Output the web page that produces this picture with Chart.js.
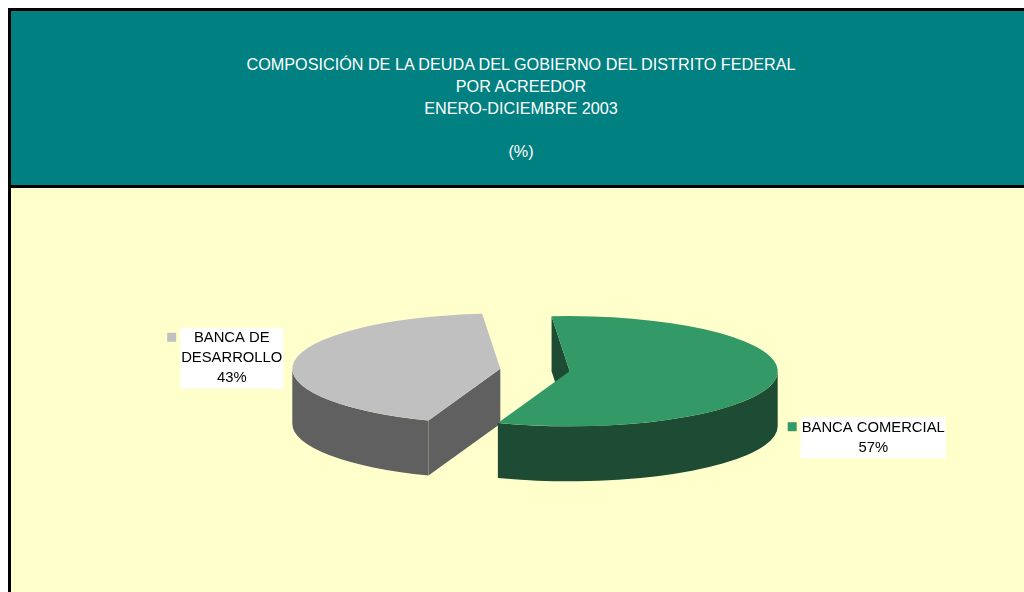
<!DOCTYPE html>
<html>
<head>
<meta charset="utf-8">
<script src="https://cdn.jsdelivr.net/npm/chart.js@4.4.1/dist/chart.umd.min.js"></script>
<style>
  html, body { margin: 0; padding: 0; width: 1024px; height: 592px; overflow: hidden; background: #fff; }
  body { font-family: "Liberation Sans", Arial, sans-serif; position: relative; }
  #frame { position: absolute; left: 8px; top: 8px; width: 1040px; height: 600px;
           border-left: 3px solid #000; border-top: 3px solid #000; background: #FFFFCC; }
  #head { position: absolute; left: 11px; top: 11px; width: 1020px; height: 177px;
          background: #008080; border-bottom: 3px solid #000; color: #fff; text-align: center;
          font-size: 16.2px; line-height: 21.75px; padding-top: 43px; box-sizing: border-box; }
  #chart { position: absolute; left: 0; top: 0; }
</style>
</head>
<body>
<div id="frame"></div>
<div id="head"></div>
<canvas id="chart" width="1024" height="592"></canvas>
<script>
const titleLines = ['COMPOSICIÓN DE LA DEUDA DEL GOBIERNO DEL DISTRITO FEDERAL', 'POR ACREEDOR', 'ENERO-DICIEMBRE 2003', '', '(%)'];
const categories = ['BANCA COMERCIAL', 'BANCA DE DESARROLLO'];
const labelLines = [['BANCA COMERCIAL'], ['BANCA DE', 'DESARROLLO']];
const values = [57, 43];
const topColors = ['#339966', '#C0C0C0'];
const sideColors = ['#1D4B33', '#606060'];

const squash = 0.265;   // vertical flattening of the pie
const depth = 55;       // thickness of the 3d pie
const explode = 35;

document.getElementById('head').innerHTML = titleLines.map(t => '<div>' + (t || '&nbsp;') + '</div>').join('');

function centerY(chart) {
  return (chart.chartArea.top + chart.chartArea.bottom) / 2;
}

const pie3d = {
  id: 'pie3d',
  afterDatasetsUpdate(chart) {
    chart.getDatasetMeta(0).data.forEach(function (arc) {
      const mid = (arc.startAngle + arc.endAngle) / 2;
      arc.x += Math.cos(mid) * explode;
      arc.y += Math.sin(mid) * explode;
    });
  },
  beforeDatasetsDraw(chart) {
    const ctx = chart.ctx;
    const cy = centerY(chart);
    const arcs = chart.getDatasetMeta(0).data;

    // cut faces first
    arcs.forEach(function (arc, i) {
      const x = arc.x, y = cy + (arc.y - cy) * squash, r = arc.outerRadius;
      ctx.fillStyle = sideColors[i];
      [[arc.startAngle, Math.cos(arc.startAngle) < 0], [arc.endAngle, Math.cos(arc.endAngle) > 0]].forEach(function (f) {
        if (!f[1]) return;
        const ex = x + Math.cos(f[0]) * r, ey = y + Math.sin(f[0]) * r * squash;
        ctx.beginPath();
        ctx.moveTo(x, y);
        ctx.lineTo(ex, ey);
        ctx.lineTo(ex, ey + depth);
        ctx.lineTo(x, y + depth);
        ctx.closePath();
        ctx.fill();
      });
    });

    // outer walls, only the front half (sin > 0)
    arcs.forEach(function (arc, i) {
      const x = arc.x, y = cy + (arc.y - cy) * squash, r = arc.outerRadius;
      ctx.fillStyle = sideColors[i];
      for (let k = -1; k <= 2; k++) {
        const a0 = Math.max(arc.startAngle, 2 * Math.PI * k);
        const a1 = Math.min(arc.endAngle, 2 * Math.PI * k + Math.PI);
        if (a1 <= a0) continue;
        ctx.beginPath();
        ctx.ellipse(x, y, r, r * squash, 0, a0, a1);
        ctx.ellipse(x, y + depth, r, r * squash, 0, a1, a0, true);
        ctx.closePath();
        ctx.fill();
      }
    });

    ctx.save();
    ctx.translate(0, cy);
    ctx.scale(1, squash);
    ctx.translate(0, -cy);
  },
  afterDatasetsDraw(chart) {
    chart.ctx.restore();
  },
  afterDraw(chart) {
    const ctx = chart.ctx;
    const cy = centerY(chart);
    const total = values.reduce((a, b) => a + b, 0);
    ctx.save();
    ctx.font = '14.8px "Liberation Sans", Arial, sans-serif';
    ctx.textAlign = 'center';
    ctx.textBaseline = 'middle';
    chart.getDatasetMeta(0).data.forEach(function (arc, i) {
      const lines = labelLines[i].concat([Math.round(values[i] / total * 100) + '%']);
      const w = Math.max.apply(null, lines.map(l => ctx.measureText(l).width)) + 2;
      const h = lines.length * 20 + 1;
      const mid = (arc.startAngle + arc.endAngle) / 2;
      const y = cy + (arc.y - cy) * squash;
      let bx, by;
      if (Math.cos(mid) < 0) {
        bx = arc.x - arc.outerRadius - 9 - w;
        by = y - 41;
      } else {
        bx = arc.x + arc.outerRadius + 23;
        by = y + 46;
      }
      ctx.fillStyle = '#FFFFFF';
      ctx.fillRect(bx, by, w, h);
      ctx.fillStyle = topColors[i];
      ctx.fillRect(bx - 13, by + 5, 9, 9);
      ctx.fillStyle = '#000000';
      lines.forEach(function (l, j) {
        ctx.fillText(l, bx + w / 2, by + 10.5 + j * 20);
      });
    });
    ctx.restore();
  }
};

new Chart(document.getElementById('chart'), {
  type: 'pie',
  data: {
    labels: categories,
    datasets: [{
      data: values,
      backgroundColor: topColors,
      borderWidth: 0,
      radius: 208,
      clip: false
    }]
  },
  options: {
    responsive: false,
    animation: false,
    events: [],
    rotation: -5,
    layout: { padding: { left: 46, top: 148, right: 0, bottom: 0 } },
    plugins: {
      legend: { display: false },
      tooltip: { enabled: false },
      title: { display: false }
    }
  },
  plugins: [pie3d]
});
</script>
</body>
</html>
